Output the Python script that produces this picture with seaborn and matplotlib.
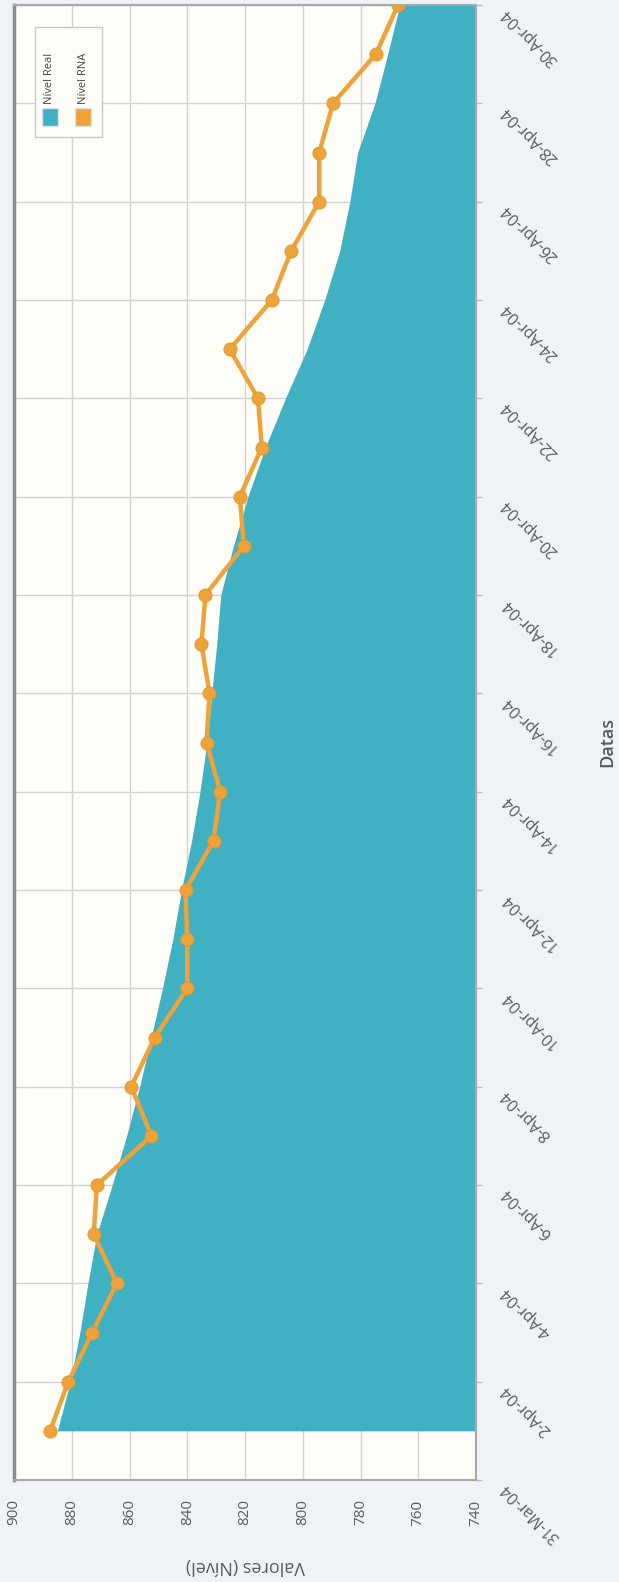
import pandas as pd
import matplotlib.pyplot as plt
import matplotlib.patches as mpatches
import seaborn as sns

# valores (1-Apr-04 .. 30-Apr-04)
datas = pd.date_range("2004-04-01", periods=30)
nivel_real = [885.0, 880.5, 877.2, 874.4, 871.3, 866.0, 861.0, 856.5, 852.5, 848.6,
              845.0, 842.0, 838.5, 835.6, 833.2, 831.5, 829.8, 828.4, 824.0, 819.0,
              813.0, 806.0, 798.5, 792.4, 787.2, 783.7, 781.0, 775.0, 770.6, 766.4]
nivel_rna = [887.5, 881.2, 872.9, 864.4, 872.4, 871.3, 852.4, 859.4, 851.3, 840.0,
             840.0, 840.6, 830.9, 828.6, 833.3, 832.3, 835.1, 833.7, 820.4, 821.8,
             814.2, 815.5, 825.3, 810.7, 804.0, 794.3, 794.3, 789.5, 774.7, 767.0]
tick_datas = pd.date_range("2004-03-31", "2004-04-30", freq="2D")
tick_valores = [900, 880, 860, 840, 820, 800, 780, 760, 740]

cor_real = "#40b1c3"
cor_rna = "#eea23a"
cinza = "#5a5a5a"

sns.set_theme(style="white")
plt.rcParams["font.family"] = ["Open Sans", "DejaVu Sans"]

W, H = 619, 1582
fig = plt.figure(figsize=(W / 100, H / 100), dpi=100, facecolor="#eff3f7")
ax = fig.add_axes([14 / W, 1 - 1480 / H, (476 - 14) / W, (1480 - 5) / H])
ax.set_facecolor("#fffdf8")

df = pd.DataFrame({"Data": datas, "Real": nivel_real, "RNA": nivel_rna})

# área do nível real (eixos trocados: valores na horizontal, datas na vertical)
ax.fill_betweenx(df["Data"], df["Real"], 740, color=cor_real, lw=0, zorder=2)

sns.lineplot(data=df, x="RNA", y="Data", orient="y", ax=ax, color=cor_rna,
             lw=3.2, marker="o", markersize=9.5, markeredgewidth=0.6,
             markeredgecolor="#e0952e", zorder=3, legend=False)

ax.set_xlim(900, 740)
ax.set_ylim(pd.Timestamp("2004-03-31"), pd.Timestamp("2004-04-30"))

ax.set_xticks(tick_valores)
ax.set_xticklabels([str(v) for v in tick_valores], rotation=90, fontsize=11, color=cinza)
ax.set_yticks(tick_datas)
ax.set_yticklabels([f"{d.day}-{d.strftime('%b-%y')}" for d in tick_datas],
                   rotation=135, rotation_mode="anchor", ha="right", va="bottom",
                   fontsize=11.5, color=cinza)
ax.yaxis.tick_right()
ax.tick_params(axis="x", direction="out", length=6, width=1, color="#aaaaaa", pad=8)
ax.tick_params(axis="y", direction="out", length=4, width=1, color="#bbbbbb", pad=20)

ax.grid(True, color="#d2d2d2", lw=1, zorder=1)
ax.set_axisbelow(True)
for s in ax.spines.values():
    s.set_color("#a8a8a8")
    s.set_linewidth(1.5)
ax.spines["left"].set_color("#8c8c8c")
ax.spines["left"].set_linewidth(2.5)

ax.set_xlabel("")
ax.set_ylabel("")
fig.text(245 / W, 1 - 1566 / H, "Valores (Nível)", rotation=180, ha="center", va="center",
         fontsize=13, color=cinza)
fig.text(607 / W, 1 - 742 / H, "Datas", rotation=90, ha="center", va="center",
         fontsize=13, color=cinza, fontweight="semibold")

# legenda desenhada à mão, rodada como o resto do gráfico
def px(x, y):
    return x / W, 1 - y / H

x0, y0 = px(35, 137)
fig.patches.append(mpatches.Rectangle((x0, y0), 67 / W, 110 / H, transform=fig.transFigure,
                                      facecolor="#fffdf8", edgecolor="#c8c8c8", lw=1, zorder=5))
for cx, cor, nome in [(50, cor_real, "Nível Real"), (83, cor_rna, "Nível RNA")]:
    sx, sy = px(cx - 8, 126)
    fig.patches.append(mpatches.Rectangle((sx, sy), 16 / W, 18 / H, transform=fig.transFigure,
                                          facecolor=cor, edgecolor="#d8e4e8", lw=1, zorder=6))
    tx, ty = px(cx, 104)
    fig.text(tx, ty, nome, rotation=90, ha="center", va="bottom", fontsize=8,
             color="#444444", zorder=7)

fig.savefig("out.png", dpi=100, facecolor=fig.get_facecolor())
